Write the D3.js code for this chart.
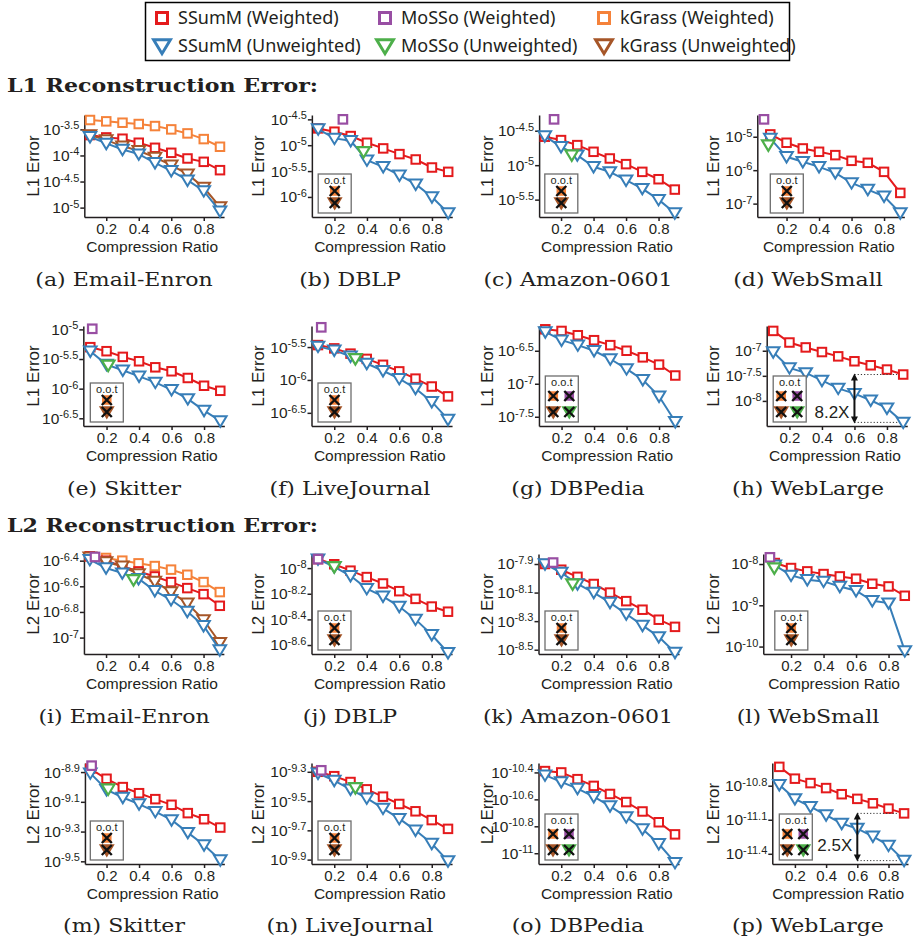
<!DOCTYPE html>
<html>
<head>
<meta charset="utf-8">
<script src="https://cdn.jsdelivr.net/npm/d3@7"></script>
<style>
body { margin: 0; background: #fff; }
svg text { font-family: "Liberation Sans", Arial, sans-serif; fill: #231f20; }
</style>
</head>
<body>
<div id="chart"></div>
<script>
// compression ratios on every x axis
var ratios = [0.1, 0.2, 0.3, 0.4, 0.5, 0.6, 0.7, 0.8, 0.9];
var xTicks = [0.2, 0.4, 0.6, 0.8];

var datasets = ["Email-Enron", "DBLP", "Amazon-0601", "WebSmall", "Skitter", "LiveJournal", "DBPedia", "WebLarge"];
var letters = "abcdefghijklmnop".split("");

// log10 of L1 error, one row per dataset
var l1SSumMW = [
  [-3.609, -3.654, -3.679, -3.756, -3.853, -3.949, -4.058, -4.122, -4.282],
  [-4.675, -4.739, -4.823, -4.953, -5.062, -5.172, -5.276, -5.431, -5.515],
  [-4.587, -4.636, -4.709, -4.806, -4.903, -4.985, -5.097, -5.204, -5.354],
  [-4.93, -5.18, -5.35, -5.45, -5.55, -5.72, -5.78, -6.05, -6.68],
  [-5.3, -5.368, -5.464, -5.538, -5.64, -5.707, -5.82, -5.951, -6.036],
  [-5.47, -5.52, -5.6, -5.68, -5.77, -5.87, -5.98, -6.1, -6.25],
  [-6.175, -6.2, -6.265, -6.34, -6.415, -6.5, -6.6, -6.71, -6.875],
  [-6.605, -6.836, -6.934, -7.026, -7.112, -7.21, -7.29, -7.375, -7.474]
];
var l1SSumMU = [
  [-3.641, -3.769, -3.885, -3.974, -4.141, -4.295, -4.474, -4.679, -5.07],
  [-4.688, -4.868, -4.914, -5.289, -5.418, -5.58, -5.754, -6.0, -6.31],
  [-4.578, -4.733, -4.854, -5.024, -5.097, -5.218, -5.34, -5.5, -5.694],
  [-5.05, -5.6, -5.75, -5.9, -6.08, -6.38, -6.58, -6.78, -7.28],
  [-5.368, -5.594, -5.69, -5.792, -5.894, -6.019, -6.172, -6.37, -6.545],
  [-5.49, -5.55, -5.64, -5.75, -5.86, -5.98, -6.13, -6.33, -6.6],
  [-6.215, -6.34, -6.415, -6.5, -6.625, -6.775, -6.94, -7.19, -7.575],
  [-7.026, -7.342, -7.441, -7.592, -7.75, -7.855, -7.987, -8.145, -8.428]
];
// kGrass finished only on Email-Enron
var l1KGrassW = [-3.32, -3.346, -3.372, -3.397, -3.436, -3.5, -3.577, -3.686, -3.833];
var l1KGrassU = [-3.609, -3.705, -3.821, -3.91, -4.038, -4.186, -4.359, -4.615, -4.987];
// MoSSo: single [ratio, log10 error] point or null
var l1MoSSoW = [null, [0.252, -4.5], [0.157, -4.335], [0.061, -4.48], [0.112, -4.99], [0.12, -5.2], null, null];
var l1MoSSoU = [null, [0.379, -5.127], [0.266, -4.854], [0.088, -5.25], [0.21, -5.606], [0.33, -5.68], null, null];

// log10 of L2 error
var l2SSumMW = [
  [-6.366, -6.4, -6.444, -6.484, -6.523, -6.567, -6.614, -6.661, -6.752],
  [-7.93, -7.97, -8.02, -8.07, -8.12, -8.18, -8.24, -8.3, -8.34],
  [-7.9, -7.94, -7.99, -8.04, -8.1, -8.16, -8.22, -8.29, -8.34],
  [-7.976, -8.097, -8.178, -8.243, -8.3, -8.356, -8.478, -8.543, -8.769],
  [-8.878, -8.945, -9.001, -9.042, -9.082, -9.12, -9.176, -9.217, -9.273],
  [-9.3, -9.33, -9.37, -9.42, -9.47, -9.52, -9.57, -9.63, -9.69],
  [-10.39, -10.4, -10.45, -10.5, -10.56, -10.62, -10.69, -10.77, -10.86],
  [-10.634, -10.738, -10.777, -10.821, -10.875, -10.916, -10.955, -11.002, -11.044]
];
var l2SSumMU = [
  [-6.392, -6.457, -6.497, -6.541, -6.635, -6.705, -6.797, -6.907, -7.097],
  [-7.93, -7.99, -8.06, -8.16, -8.22, -8.3, -8.4, -8.52, -8.66],
  [-7.9, -7.96, -8.04, -8.1, -8.17, -8.25, -8.33, -8.41, -8.52],
  [-8.032, -8.275, -8.381, -8.421, -8.543, -8.648, -8.891, -8.947, -10.105],
  [-8.907, -9.019, -9.071, -9.115, -9.166, -9.222, -9.307, -9.39, -9.491],
  [-9.31, -9.36, -9.42, -9.48, -9.55, -9.62, -9.7, -9.79, -9.91],
  [-10.42, -10.47, -10.52, -10.58, -10.65, -10.73, -10.82, -10.93, -11.07],
  [-10.791, -10.916, -10.985, -11.059, -11.133, -11.178, -11.246, -11.326, -11.46]
];
var l2KGrassW = [-6.366, -6.379, -6.4, -6.421, -6.442, -6.47, -6.51, -6.567, -6.645];
var l2KGrassU = [-6.374, -6.41, -6.444, -6.504, -6.562, -6.645, -6.732, -6.862, -7.04];
var l2MoSSoW = [[0.132, -6.371], [0.1, -7.93], [0.15, -7.89], [0.07, -7.838], [0.108, -8.857], [0.12, -9.29], null, null];
var l2MoSSoU = [[0.369, -6.549], [0.2, -7.99], [0.27, -8.04], [0.097, -8.097], [0.21, -9.015], [0.33, -9.41], null, null];

// y tick exponents per panel (a..p)
var yTickExps = [
  [-3.5, -4, -4.5, -5], [-4.5, -5, -5.5, -6], [-4.5, -5, -5.5], [-5, -6, -7],
  [-5, -5.5, -6, -6.5], [-5.5, -6, -6.5], [-6.5, -7, -7.5], [-7, -7.5, -8],
  [-6.4, -6.6, -6.8, -7], [-8, -8.2, -8.4, -8.6], [-7.9, -8.1, -8.3, -8.5], [-8, -9, -10],
  [-8.9, -9.1, -9.3, -9.5], [-9.3, -9.5, -9.7, -9.9], [-10.4, -10.6, -10.8, -11], [-10.8, -11.1, -11.4]
];
// y axis extent (log10) per panel
var yExtent = [
  [-5.18, -3.224], [-6.388, -4.416], [-5.752, -4.272], [-7.4, -4.35],
  [-6.63, -4.943], [-6.7, -5.18], [-7.64, -6.125], [-8.5, -6.507],
  [-7.128, -6.348], [-8.67, -7.89], [-8.53, -7.83], [-10.18, -7.757],
  [-9.518, -8.839], [-9.93, -9.24], [-11.08, -10.33], [-11.49, -10.6]
];
var xStart = [0.065, 0.061, 0.065, 0.02, 0.057, 0.06, 0.061, 0.06,
              0.064, 0.06, 0.06, 0.029, 0.067, 0.06, 0.06, 0.055];

// which methods ran out of time: 1 = kGrass only, 2 = kGrass and MoSSo
var ootKind = [0, 1, 1, 1, 1, 1, 2, 2, 0, 1, 1, 1, 1, 1, 2, 2];
var gapLabels = {7: "8.2X", 15: "2.5X"};

// layout
var at01 = [90, 318.2, 544.8, 770.3, 90.3, 318, 545.3, 773.2,
            89.8, 318, 545, 774.8, 90.3, 318, 545, 779.3];
var rowTop = [115, 326, 554, 763], rowBottom = [217, 426, 654, 864];
var captionX = [124, 350, 578, 808], captionY = [280, 489, 717, 926];
var yTitleX = [33, 258, 487, 713];

var colors = {
  ssummW: "#e41a1c", ssummU: "#377eb8",
  mossoW: "#984ea3", mossoU: "#4daf4a",
  kgrassW: "#f5823a", kgrassU: "#a65628"
};
var ink = "#231f20";

var svg = d3.select("#chart").append("svg")
    .attr("width", 917).attr("height", 939);

function marker(g, shape, color, cx, cy, s, fill, sw) {
  if (shape === "sq") {
    g.append("rect").attr("x", cx - s / 2).attr("y", cy - s / 2)
      .attr("width", s).attr("height", s)
      .attr("fill", fill).attr("stroke", color).attr("stroke-width", sw);
  } else {
    var w = s * 0.6, h = s * 0.5;
    g.append("path")
      .attr("d", "M" + (cx - w) + "," + (cy - h * 0.9) + "L" + (cx + w) + "," + (cy - h * 0.9) + "L" + cx + "," + (cy + h * 1.1) + "Z")
      .attr("fill", fill).attr("stroke", color).attr("stroke-width", sw)
      .attr("stroke-linejoin", "miter");
  }
}

// legend
svg.append("rect").attr("x", 145.5).attr("y", 2.5).attr("width", 644).attr("height", 58)
  .attr("fill", "none").attr("stroke", "#000").attr("stroke-width", 1.5);
var legendItems = [
  ["sq", colors.ssummW, "SSumM (Weighted)"], ["sq", colors.mossoW, "MoSSo (Weighted)"], ["sq", colors.kgrassW, "kGrass (Weighted)"],
  ["tri", colors.ssummU, "SSumM (Unweighted)"], ["tri", colors.mossoU, "MoSSo (Unweighted)"], ["tri", colors.kgrassU, "kGrass (Unweighted)"]
];
var legX = [162, 385, 604], legY = [18, 46];
legendItems.forEach(function(it, i) {
  var cx = legX[i % 3], cy = legY[Math.floor(i / 3)];
  marker(svg, it[0], it[1], cx, cy, it[0] === "sq" ? 11 : 14, "#fff", 3);
  svg.append("text").attr("x", cx + 16).attr("y", cy + 6)
    .style("font-family", "'Noto Sans', sans-serif").style("font-size", "18px")
    .text(it[2]);
});

// section titles
[["L1 Reconstruction Error:", 92], ["L2 Reconstruction Error:", 532]].forEach(function(t) {
  svg.append("text").attr("x", 7).attr("y", t[1])
    .style("font-family", "'DejaVu Serif', serif").style("font-weight", "bold").style("font-size", "19px")
    .attr("textLength", 311).attr("lengthAdjust", "spacingAndGlyphs")
    .text(t[0]);
});

function drawPanel(i) {
  var k = i % 8, l2 = i >= 8;
  var row = Math.floor(i / 4), col = i % 4;
  var ppu = i === 15 ? 156 : 162.5;
  var x = d3.scaleLinear().domain([xStart[i], 0.925])
    .range([at01[i] - (0.1 - xStart[i]) * ppu, at01[i] + 0.825 * ppu]);
  var y = d3.scaleLog().domain([Math.pow(10, yExtent[i][0]), Math.pow(10, yExtent[i][1])])
    .range([rowBottom[row], rowTop[row]]);
  var g = svg.append("g");

  // axes
  var xg = g.append("g").attr("transform", "translate(0," + rowBottom[row] + ")")
    .call(d3.axisBottom(x).tickValues(xTicks).tickSize(4).tickSizeOuter(0).tickFormat(d3.format(".1f")));
  xg.selectAll("text").style("font-size", "15px").attr("y", 6).attr("fill", ink);
  var yg = g.append("g").attr("transform", "translate(" + x.range()[0] + ",0)")
    .call(d3.axisLeft(y).tickValues(yTickExps[i].map(function(e) { return Math.pow(10, e); }))
      .tickSize(4).tickSizeOuter(0));
  yg.selectAll(".tick text").each(function(d) {
    var e = Math.round(Math.log10(d) * 10) / 10;
    var t = d3.select(this).text("10").style("font-size", "15.5px").attr("x", -5).attr("fill", ink);
    t.append("tspan").attr("dy", "-0.5em").style("font-size", "11px").text(String(e));
  });
  [xg, yg].forEach(function(a) {
    a.selectAll("path, line").attr("stroke", ink).attr("stroke-width", 1.5);
  });

  g.append("text").attr("x", (x.range()[0] + x.range()[1]) / 2 - 2).attr("y", rowBottom[row] + 35)
    .attr("text-anchor", "middle").style("font-size", "15.5px").text("Compression Ratio");
  g.append("text")
    .attr("transform", "translate(" + (yTitleX[col] + 6) + "," + ((rowTop[row] + rowBottom[row]) / 2) + ") rotate(-90)")
    .attr("text-anchor", "middle").style("font-size", "17px").text(l2 ? "L2 Error" : "L1 Error");

  // caption
  var cap = g.append("text").attr("x", captionX[col]).attr("y", captionY[row] + 6)
    .attr("text-anchor", "middle")
    .style("font-family", "'DejaVu Serif', serif").style("font-size", "19px")
    .text("(" + letters[i] + ") " + datasets[k]);
  var natural = cap.node().getComputedTextLength();
  cap.attr("textLength", natural * 1.16).attr("lengthAdjust", "spacingAndGlyphs");

  var line = d3.line()
    .x(function(d) { return x(d[0]); })
    .y(function(d) { return y(Math.pow(10, d[1])); });

  var series = [];
  if (k === 0) series.push([l2 ? l2KGrassW : l1KGrassW, colors.kgrassW, "sq"]);
  series.push([(l2 ? l2SSumMW : l1SSumMW)[k], colors.ssummW, "sq"]);
  if (k === 0) series.push([l2 ? l2KGrassU : l1KGrassU, colors.kgrassU, "tri"]);
  series.push([(l2 ? l2SSumMU : l1SSumMU)[k], colors.ssummU, "tri"]);

  series.forEach(function(s) {
    var pts = ratios.map(function(r, j) { return [r, s[0][j]]; });
    g.append("path").datum(pts).attr("d", line)
      .attr("fill", "none").attr("stroke", s[1]).attr("stroke-width", 2);
    pts.forEach(function(p) {
      marker(g, s[2], s[1], x(p[0]), y(Math.pow(10, p[1])), s[2] === "sq" ? 8.5 : 10.5, "#fff", 2);
    });
  });

  var mw = (l2 ? l2MoSSoW : l1MoSSoW)[k], mu = (l2 ? l2MoSSoU : l1MoSSoU)[k];
  if (mw) marker(g, "sq", colors.mossoW, x(mw[0]), y(Math.pow(10, mw[1])), 8.5, "#fff", 2.2);
  if (mu) marker(g, "tri", colors.mossoU, x(mu[0]), y(Math.pow(10, mu[1])), 10.5, "#fff", 2.2);

  // out-of-time box
  if (ootKind[i]) {
    var bl = x(0.1), bh = ootKind[i] === 1 ? 39 : 46;
    var bt = rowBottom[row] - 4 - bh;
    var bw = 33;
    g.append("rect").attr("x", bl).attr("y", bt).attr("width", bw).attr("height", bh)
      .attr("fill", "#fff").attr("stroke", "#6d6d6d").attr("stroke-width", 1.3);
    g.append("text").attr("x", bl + bw / 2).attr("y", bt + 10).attr("text-anchor", "middle")
      .style("font-size", "11px").text("o.o.t");
    var cells = ootKind[i] === 1
      ? [["sq", colors.kgrassW, bl + bw / 2, bt + 17], ["tri", colors.kgrassU, bl + bw / 2, bt + 29]]
      : [["sq", colors.kgrassW, bl + 8, bt + 20], ["sq", colors.mossoW, bl + 24, bt + 20],
         ["tri", colors.kgrassU, bl + 8, bt + 36], ["tri", colors.mossoU, bl + 24, bt + 36]];
    cells.forEach(function(c) {
      marker(g, c[0], c[1], c[2], c[3], c[0] === "sq" ? 8 : 11, c[1], 1.5);
      g.append("path")
        .attr("d", "M" + (c[2] - 5) + "," + (c[3] - 5) + "L" + (c[2] + 5) + "," + (c[3] + 5) +
                   "M" + (c[2] + 5) + "," + (c[3] - 5) + "L" + (c[2] - 5) + "," + (c[3] + 5))
        .attr("stroke", "#111").attr("stroke-width", 2.4);
    });
  }

  // gap annotation at ratio 0.6 between the two SSumM curves at 0.9
  if (gapLabels[i]) {
    var wv = (l2 ? l2SSumMW : l1SSumMW)[k][8], uv = (l2 ? l2SSumMU : l1SSumMU)[k][8];
    var ax = x(0.6), y1 = y(Math.pow(10, wv)), y2 = y(Math.pow(10, uv));
    [y1, y2].forEach(function(yy) {
      g.append("line").attr("x1", ax).attr("x2", x(0.9) - 6).attr("y1", yy).attr("y2", yy)
        .attr("stroke", "#333").attr("stroke-width", 1).attr("stroke-dasharray", "1.2,2");
    });
    g.append("line").attr("x1", ax).attr("x2", ax).attr("y1", y1 + 4).attr("y2", y2 - 4)
      .attr("stroke", "#111").attr("stroke-width", 2);
    g.append("path").attr("d", "M" + (ax - 3.5) + "," + (y1 + 6) + "L" + (ax + 3.5) + "," + (y1 + 6) + "L" + ax + "," + (y1 - 1) + "Z").attr("fill", "#111");
    g.append("path").attr("d", "M" + (ax - 3.5) + "," + (y2 - 6) + "L" + (ax + 3.5) + "," + (y2 - 6) + "L" + ax + "," + (y2 + 1) + "Z").attr("fill", "#111");
    g.append("text").attr("x", ax - 5).attr("y", y2 - (i === 7 ? 4 : 10)).attr("text-anchor", "end")
      .style("font-size", "17px").text(gapLabels[i]);
  }
}

for (var i = 0; i < 16; i++) drawPanel(i);
</script>
</body>
</html>
